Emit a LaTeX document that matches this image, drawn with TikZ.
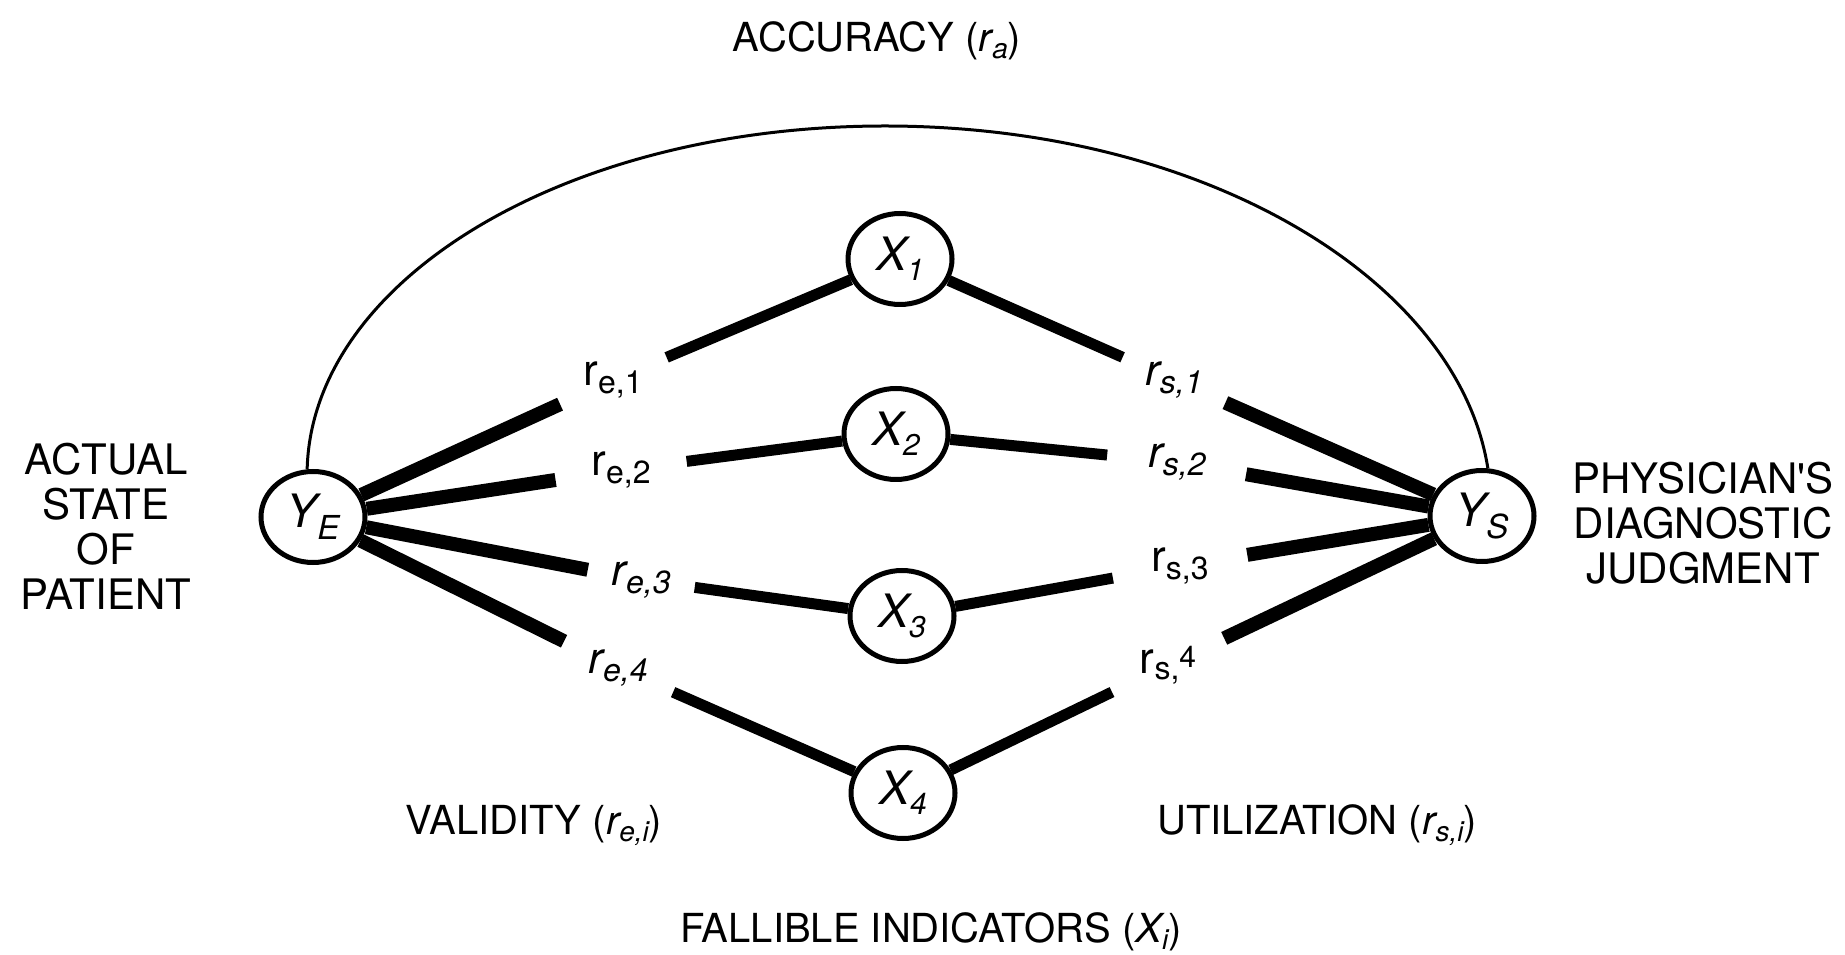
\documentclass[tikz,border=0pt]{standalone}
\usepackage{fontspec}
\setmainfont{TeX Gyre Heros}
\usetikzlibrary{shapes.geometric}
\newcommand{\fs}[1]{\fontsize{#1}{#1}\selectfont}
\newcommand{\lowsub}[3]{\raisebox{-#1pt}{\fs{#2}#3}}
\tikzset{
  var/.style={ellipse, draw, line width=5pt, minimum width=104pt, minimum height=91pt, inner sep=0pt, fill=white, font=\fs{46}\itshape},
  lbl/.style={circle, inner sep=0pt, minimum size=#1, font=\fs{44}},
  outerln/.style={line width=14pt},
  innerln/.style={line width=11pt},
  side/.style={align=center, font=\fontsize{42}{45}\selectfont, inner sep=0pt},
  caption/.style={font=\fs{40}, inner sep=0pt, anchor=base},
  arcln/.style={line width=3pt}
}
\begin{document}
\begin{tikzpicture}[x=1pt,y=1pt]
\useasboundingbox (0,0) rectangle (1845,954);
% main variables
\node[var] (YE) at (313,437) {Y\lowsub{12}{33}{E}};
\node[var] (YS) at (1482,438) {Y\lowsub{12}{33}{S}};
\node[var] (X1) at (900,695) {X\lowsub{10}{30}{1}};
\node[var] (X2) at (896,520) {X\lowsub{10}{30}{2}};
\node[var] (X3) at (902,338) {X\lowsub{10}{30}{3}};
\node[var] (X4) at (903,161) {X\lowsub{10}{30}{4}};
% correlation labels
\node[lbl=116pt] (le1) at (613,574) {r\lowsub{8}{32}{e,1}};
\node[lbl=132pt] (le2) at (621,484) {r\lowsub{8}{32}{e,2}};
\node[lbl=108pt] (le3) at (641,374) {\itshape r\lowsub{8}{32}{e,3}};
\node[lbl=120pt] (le4) at (618,286) {\itshape r\lowsub{8}{32}{e,4}};
\node[lbl=112pt] (ls1) at (1174,574) {\itshape r\lowsub{8}{32}{s,1}};
\node[lbl=140pt] (ls2) at (1177,492) {\itshape r\lowsub{8}{32}{s,2}};
\node[lbl=136pt] (ls3) at (1180,388) {r\lowsub{8}{32}{s,3}};
\node[lbl=124pt] (ls4) at (1168,289) {r\lowsub{6}{32}{s,}\raisebox{6pt}{\fs{30}4}};
% connectors
\draw[outerln] (YE) -- (le1); \draw[innerln] (le1) -- (X1);
\draw[outerln] (YE) -- (le2); \draw[innerln] (le2) -- (X2);
\draw[outerln] (YE) -- (le3); \draw[innerln] (le3) -- (X3);
\draw[outerln] (YE) -- (le4); \draw[innerln] (le4) -- (X4);
\draw[innerln] (X1) -- (ls1); \draw[outerln] (ls1) -- (YS);
\draw[innerln] (X2) -- (ls2); \draw[outerln] (ls2) -- (YS);
\draw[innerln] (X3) -- (ls3); \draw[outerln] (ls3) -- (YS);
\draw[innerln] (X4) -- (ls4); \draw[outerln] (ls4) -- (YS);
% accuracy arc
\draw[arcln] (YE.97) .. controls (312,674) and (565,828) .. (885,828)
  .. controls (1205,828) and (1458,674) .. (YS.83);
% texts
\node[caption] (acc) at (877,902) {ACCURACY ({\itshape r\lowsub{7}{28}{a}})};
\node[side] (actual) at (106,428) {ACTUAL\\STATE\\OF\\PATIENT};
\node[side] (phys) at (1703,431) {PHYSICIAN\textquotesingle S\\DIAGNOSTIC\\JUDGMENT};
\node[caption] (valid) at (534,120) {VALIDITY ({\itshape r\lowsub{7}{28}{e,i}})};
\node[caption] (util) at (1317,120) {UTILIZATION ({\itshape r\lowsub{7}{28}{s,i}})};
\node[caption] (fall) at (931,12) {FALLIBLE INDICATORS ({\itshape X\lowsub{7}{28}{i}})};
\end{tikzpicture}
\end{document}
